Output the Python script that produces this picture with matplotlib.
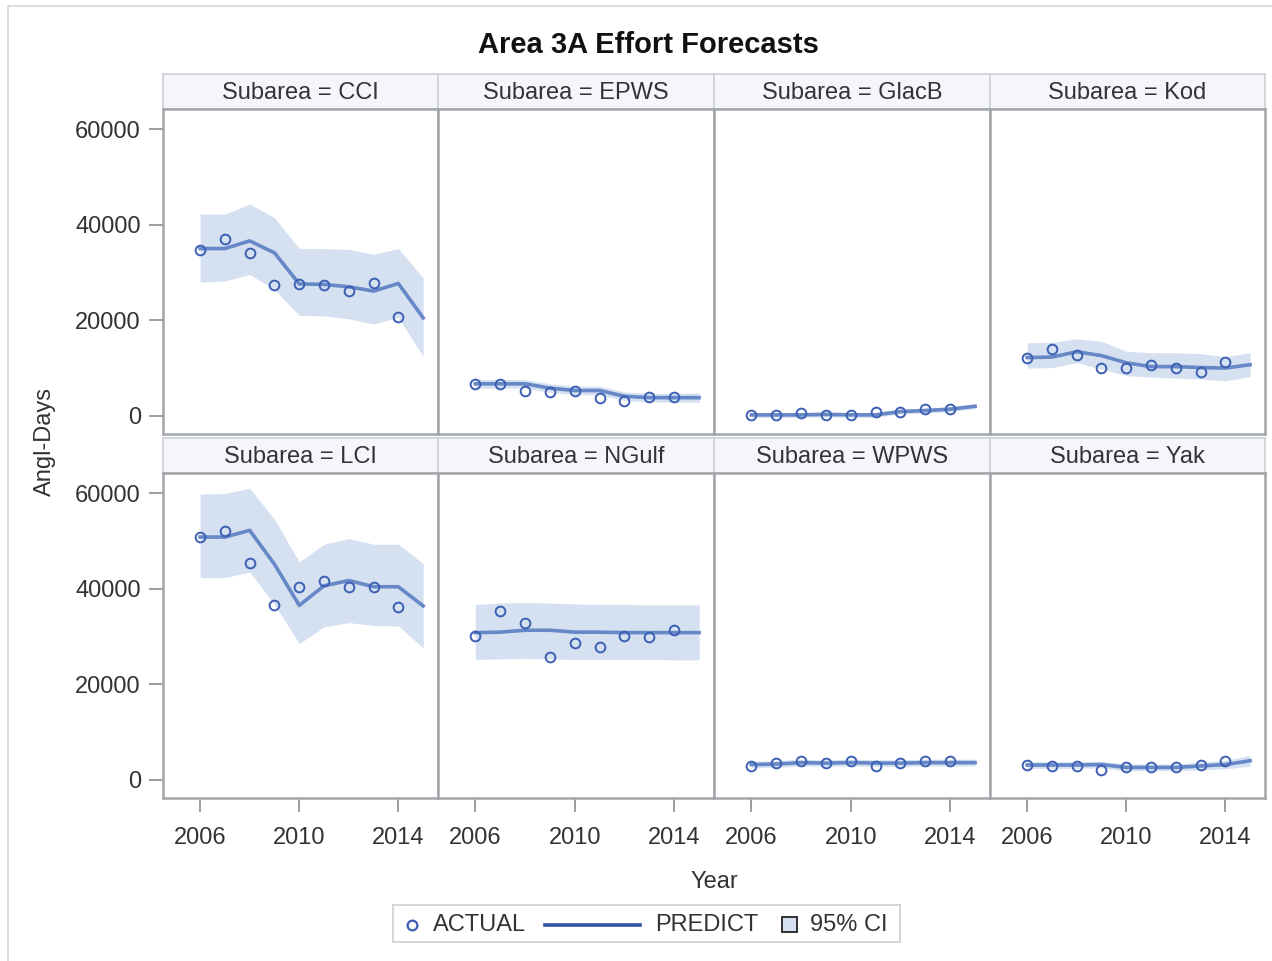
import numpy as np
import matplotlib.pyplot as plt
from matplotlib.patches import Rectangle
from matplotlib.lines import Line2D

plt.rcParams['font.family'] = ['Liberation Sans', 'DejaVu Sans']

W, H = 1272, 961

years_act = [2006, 2007, 2008, 2009, 2010, 2011, 2012, 2013, 2014]
years_pred = [2006, 2007, 2008, 2009, 2010, 2011, 2012, 2013, 2014, 2015]

subareas = ['CCI', 'EPWS', 'GlacB', 'Kod', 'LCI', 'NGulf', 'WPWS', 'Yak']

# actual effort (angler-days)
act_cci = [34800, 36900, 34100, 27300, 27600, 27300, 26100, 27800, 20600]
act_epws = [6700, 6700, 5300, 5000, 5100, 3700, 3200, 3900, 3900]
act_glacb = [200, 100, 600, 100, 100, 900, 900, 1400, 1400]
act_kod = [12200, 14000, 12700, 10000, 10000, 10700, 10000, 9200, 11200]
act_lci = [50800, 52100, 45300, 36500, 40300, 41600, 40300, 40300, 36100]
act_ngulf = [30200, 35300, 32900, 25700, 28700, 27800, 30200, 29900, 31300]
act_wpws = [3000, 3500, 4000, 3500, 4000, 3000, 3500, 4000, 4000]
act_yak = [3100, 3000, 3000, 2100, 2700, 2700, 2700, 3100, 4000]

# predicted effort
pred_cci = [35000, 35000, 36600, 34100, 27600, 27500, 27000, 26100, 27700, 20500]
pred_epws = [6700, 6700, 6700, 5800, 5300, 5300, 4100, 3800, 3800, 3800]
pred_glacb = [200, 200, 200, 300, 200, 200, 900, 1100, 1400, 2000]
pred_kod = [12200, 12300, 13400, 12600, 11100, 10300, 10300, 10100, 10000, 10700]
pred_lci = [50800, 50800, 52200, 45100, 36500, 40600, 41700, 40400, 40400, 36400]
pred_ngulf = [30800, 30900, 31300, 31300, 30900, 30900, 30800, 30800, 30800, 30800]
pred_wpws = [3200, 3300, 3600, 3500, 3600, 3500, 3500, 3600, 3600, 3600]
pred_yak = [3100, 3100, 3100, 3200, 2600, 2600, 2600, 2900, 3200, 4000]

# 95% confidence limits
lo_cci = [28000, 28200, 29600, 26400, 21000, 20900, 20300, 19200, 20600, 12400]
hi_cci = [42200, 42200, 44300, 41500, 35000, 35000, 34800, 33800, 35000, 28900]
lo_epws = [5800, 5800, 5800, 4900, 4400, 4400, 3200, 2900, 2900, 2800]
hi_epws = [7600, 7600, 7600, 6700, 6200, 6200, 5000, 4700, 4700, 4800]
lo_glacb = [-300, -300, -300, -200, -300, -300, 400, 600, 900, 1500]
hi_glacb = [700, 700, 700, 800, 700, 700, 1400, 1600, 1900, 2500]
lo_kod = [10000, 10100, 11100, 9800, 8400, 8100, 7900, 7700, 7300, 8200]
hi_kod = [15300, 15400, 16100, 15600, 13500, 13200, 13200, 13000, 12400, 13200]
lo_lci = [42300, 42300, 43500, 36700, 28500, 32000, 32900, 32300, 32200, 27600]
hi_lci = [59800, 59900, 61000, 54500, 45600, 49300, 50500, 49300, 49300, 45200]
lo_ngulf = [25200, 25300, 25400, 25300, 25200, 25200, 25200, 25200, 25100, 25100]
hi_ngulf = [36700, 37000, 37100, 37000, 36800, 36700, 36700, 36600, 36600, 36600]
lo_wpws = [2500, 2600, 2900, 2800, 2900, 2800, 2800, 2900, 2900, 2900]
hi_wpws = [3900, 4000, 4300, 4200, 4300, 4200, 4200, 4300, 4300, 4300]
lo_yak = [2400, 2400, 2400, 2500, 1900, 1900, 1900, 2100, 2300, 2900]
hi_yak = [3800, 3800, 3800, 3900, 3300, 3300, 3300, 3700, 4100, 5100]

actual = [act_cci, act_epws, act_glacb, act_kod, act_lci, act_ngulf, act_wpws, act_yak]
predict = [pred_cci, pred_epws, pred_glacb, pred_kod, pred_lci, pred_ngulf, pred_wpws, pred_yak]
lower = [lo_cci, lo_epws, lo_glacb, lo_kod, lo_lci, lo_ngulf, lo_wpws, lo_yak]
upper = [hi_cci, hi_epws, hi_glacb, hi_kod, hi_lci, hi_ngulf, hi_wpws, hi_yak]

y_ticks = [0, 20000, 40000, 60000]
x_ticks = [2006, 2010, 2014]

band_color = '#d5e0f1'
line_color = '#6688c6'
marker_color = '#3d5fb4'
spine_color = '#a2a6aa'
tick_color = '#8c8c8c'
text_color = '#333333'
fs = 17


def px_axes(fig, x0, y0, x1, y1):
    return fig.add_axes([x0 / W, 1 - y1 / H, (x1 - x0) / W, (y1 - y0) / H])


fig = plt.figure(figsize=(W / 100, H / 100), dpi=100)

# outer frame
fig.patches.append(Rectangle((8 / W, 1 - 1000 / H), 1400 / W, 994 / H, transform=fig.transFigure,
                             fill=False, edgecolor='#d6d6d6', linewidth=1.2))

col_x = [163, 438, 714, 990, 1265]
row_y = [(74, 109, 434), (438, 473, 798)]

for k, name in enumerate(subareas):
    r, c = divmod(k, 4)
    x0, x1 = col_x[c], col_x[c + 1]
    s0, s1, p1 = row_y[r]

    # strip header
    sax = px_axes(fig, x0, s0, x1, s1)
    sax.set_facecolor('#f4f6fc')
    for sp in sax.spines.values():
        sp.set_color('#cdd1d6')
        sp.set_linewidth(1.2)
    sax.set_xticks([])
    sax.set_yticks([])
    sax.text(0.5, 0.47, f'Subarea = {name}', ha='center', va='center',
             fontsize=fs, color=text_color, transform=sax.transAxes)

    ax = px_axes(fig, x0, s1, x1, p1)
    ax.fill_between(years_pred, lower[k], upper[k], color=band_color, linewidth=0, zorder=1)
    ax.plot(years_pred, predict[k], color=line_color, linewidth=2.6, zorder=2)
    ax.plot(years_act, actual[k], linestyle='none', marker='o', markersize=7,
            markerfacecolor='none', markeredgecolor=marker_color, markeredgewidth=1.4, zorder=3)

    ax.set_xlim(2004.5, 2015.6)
    ax.set_ylim(-3800, 64200)
    for sp in ax.spines.values():
        sp.set_color(spine_color)
        sp.set_linewidth(1.8)
    ax.set_yticks(y_ticks)
    ax.set_xticks(x_ticks)
    ax.tick_params(colors=tick_color, labelcolor=text_color, labelsize=fs,
                   length=10, width=1.2, pad=6)
    ax.tick_params(axis='x', pad=11)
    if c != 0:
        ax.tick_params(axis='y', left=False, labelleft=False)
    if r != 1:
        ax.tick_params(axis='x', bottom=False, labelbottom=False)

fig.text(648 / W, 1 - 45 / H, 'Area 3A Effort Forecasts', ha='center', va='center',
         fontsize=21, fontweight='bold', color='#111111')
fig.text(45 / W, 1 - 441 / H, 'Angl-Days', ha='center', va='center', rotation=90,
         fontsize=fs, color=text_color)
fig.text(714 / W, 1 - 882 / H, 'Year', ha='center', va='center', fontsize=fs, color=text_color)

# legend box
lax = px_axes(fig, 393, 905, 900, 942)
lax.set_xlim(393, 900)
lax.set_ylim(942, 905)
lax.set_xticks([])
lax.set_yticks([])
for sp in lax.spines.values():
    sp.set_color('#cfcfcf')
    sp.set_linewidth(1.2)
lax.plot([412], [925], marker='o', markersize=7, markerfacecolor='none',
         markeredgecolor=marker_color, markeredgewidth=1.6, linestyle='none')
lax.text(433, 925, 'ACTUAL', ha='left', va='center', fontsize=fs, color=text_color)
lax.add_line(Line2D([545, 640], [925, 925], color='#2f54a8', linewidth=2.6))
lax.text(655, 925, 'PREDICT', ha='left', va='center', fontsize=fs, color=text_color)
lax.add_patch(Rectangle((782, 917), 15, 15, facecolor=band_color, edgecolor='#222222', linewidth=1.3))
lax.text(810, 925, '95% CI', ha='left', va='center', fontsize=fs, color=text_color)

fig.savefig('out.png', dpi=100)
